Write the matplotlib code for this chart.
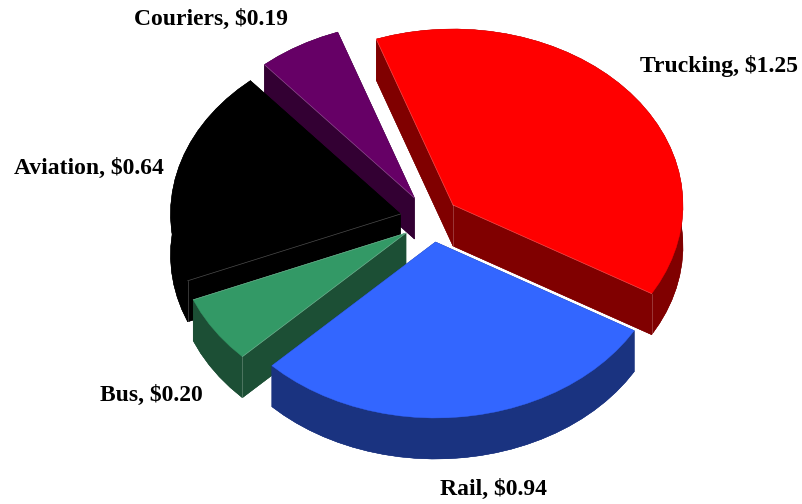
"""
Exploded 3D looking pie, drawn as flat polygons in pixel coordinates.
"""
import numpy as np
import matplotlib
matplotlib.use("Agg")
import matplotlib.pyplot as plt

modes = ["Trucking", "Rail", "Bus", "Aviation", "Couriers"]
costs = [1.25, 0.94, 0.20, 0.64, 0.19]

top_colors = ["#ff0000", "#3366ff", "#339966", "#000000", "#660066"]
side_colors = ["#800000", "#1a3380", "#1c4f35", "#000000", "#330033"]

# layout, in pixels of the 802x504 picture
apex = {"Trucking": (453, 205), "Rail": (435.5, 242), "Bus": (406, 233),
        "Aviation": (400.5, 214), "Couriers": (414.5, 198)}
label_pos = {"Trucking": (719, 66), "Rail": (494, 489), "Bus": (151, 395),
             "Aviation": (89, 168), "Couriers": (211, 19)}
draw_order = ["Couriers", "Trucking", "Aviation", "Bus", "Rail"]
# which corners get the thin light line: start edge, end edge, verticals
light_edges = {"Trucking": ("start", "end", "v_end", "v_apex"),
               "Rail": (),
               "Bus": ("end", "start", "v_start"),
               "Aviation": ("start", "v_start"),
               "Couriers": ("start",)}
rx, ry = 230, 176
depth = 41
start_angle = -19.5


def rim(name, t0, t1):
    n = max(int((t1 - t0) / 4), 2)
    t = np.radians(np.linspace(t0, t1, n + 1))
    ax0, ay0 = apex[name]
    return ax0 + rx * np.sin(t), ay0 - ry * np.cos(t)


def draw_slice(ax, name, t0, t1, top, side):
    ax0, ay0 = apex[name]
    x, y = rim(name, t0, t1)
    px = np.concatenate([[ax0], x])
    py = np.concatenate([[ay0], y])

    # bottom outline plus the band joining it to the top, in one piece per face
    ax.fill(px, py + depth, color=side, lw=0.3)
    ax.fill(np.concatenate([x, x[::-1]]),
            np.concatenate([y, y[::-1] + depth]), color=side, lw=0.3)
    ax.fill([ax0, x[0], x[0], ax0], [ay0, y[0], y[0] + depth, ay0 + depth],
            color=side, lw=0.3)
    ax.fill([ax0, x[-1], x[-1], ax0], [ay0, y[-1], y[-1] + depth, ay0 + depth],
            color=side, lw=0.3)
    ax.fill(px, py, color=top, lw=0.3)

    # thin light lines along the visible corners
    segs = {"start": ([ax0, x[0]], [ay0, y[0]]),
            "end": ([ax0, x[-1]], [ay0, y[-1]]),
            "v_start": ([x[0], x[0]], [y[0], y[0] + depth]),
            "v_end": ([x[-1], x[-1]], [y[-1], y[-1] + depth]),
            "v_apex": ([ax0, ax0], [ay0, ay0 + depth])}
    for key in light_edges[name]:
        ax.plot(segs[key][0], segs[key][1], color="#ffffff", lw=0.5, alpha=0.3)


fig = plt.figure(figsize=(8.02, 5.04), dpi=100)
ax = fig.add_axes([0, 0, 1, 1])
ax.set_xlim(0, 802)
ax.set_ylim(504, 0)
ax.axis("off")

spans = np.array(costs) / sum(costs) * 360
starts = start_angle + np.concatenate([[0], np.cumsum(spans)[:-1]])

for name in draw_order:
    i = modes.index(name)
    draw_slice(ax, name, starts[i], starts[i] + spans[i], top_colors[i], side_colors[i])

for name, cost in zip(modes, costs):
    x, y = label_pos[name]
    ax.text(x, y, "{}, ${:.2f}".format(name, cost), ha="center", va="center",
            family="Liberation Serif", weight="bold", fontsize=17, color="black")

fig.savefig("out.png", dpi=100)
